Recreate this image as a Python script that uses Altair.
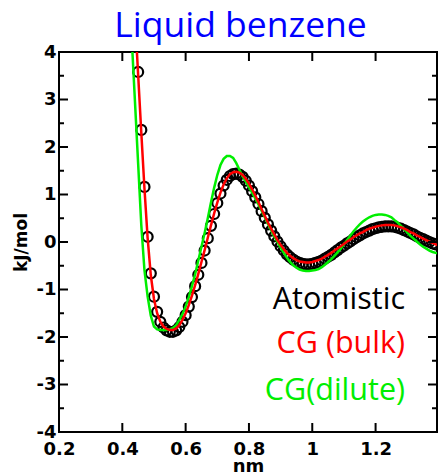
import altair as alt
import pandas as pd

# ---------------- data ----------------
atom_x = [0.45, 0.46, 0.47, 0.48, 0.49, 0.50, 0.51, 0.52, 0.53, 0.54,
          0.55, 0.56, 0.57, 0.58, 0.59, 0.60, 0.61, 0.62, 0.63, 0.64,
          0.65, 0.66, 0.67, 0.68, 0.69, 0.70, 0.71, 0.72, 0.73, 0.74,
          0.75, 0.76, 0.77, 0.78, 0.79, 0.80, 0.81, 0.82, 0.83, 0.84,
          0.85, 0.86, 0.87, 0.88, 0.89, 0.90, 0.91, 0.92, 0.93, 0.94,
          0.95, 0.96, 0.97, 0.98, 0.99, 1.00, 1.01, 1.02, 1.03, 1.04,
          1.05, 1.06, 1.07, 1.08, 1.09, 1.10, 1.11, 1.12, 1.13, 1.14,
          1.15, 1.16, 1.17, 1.18, 1.19, 1.20, 1.21, 1.22, 1.23, 1.24,
          1.25, 1.26, 1.27, 1.28, 1.29, 1.30, 1.31, 1.32, 1.33, 1.34,
          1.35, 1.36, 1.37, 1.38, 1.39]
atom_y = [3.58, 2.36, 1.16, 0.11, -0.66, -1.15, -1.47, -1.68, -1.80, -1.86,
          -1.89, -1.89, -1.86, -1.79, -1.68, -1.54, -1.36, -1.16, -0.93, -0.69,
          -0.44, -0.18, 0.08, 0.34, 0.59, 0.82, 1.02, 1.19, 1.31, 1.39,
          1.43, 1.44, 1.42, 1.37, 1.29, 1.19, 1.07, 0.94, 0.80, 0.65,
          0.51, 0.37, 0.24, 0.12, 0.01, -0.09, -0.18, -0.26, -0.32, -0.37,
          -0.41, -0.44, -0.46, -0.47, -0.47, -0.46, -0.44, -0.42, -0.39, -0.35,
          -0.31, -0.27, -0.22, -0.17, -0.12, -0.08, -0.03, 0.01, 0.06, 0.10,
          0.14, 0.18, 0.21, 0.24, 0.27, 0.29, 0.31, 0.32, 0.33, 0.33,
          0.33, 0.32, 0.30, 0.28, 0.25, 0.22, 0.19, 0.16, 0.12, 0.09,
          0.06, 0.03, 0.00, -0.03, -0.05]

bulk_x = [0.44, 0.45, 0.46, 0.47, 0.48, 0.49, 0.50, 0.51, 0.52, 0.53,
          0.54, 0.55, 0.56, 0.57, 0.58, 0.59, 0.60, 0.61, 0.62, 0.63,
          0.64, 0.65, 0.66, 0.67, 0.68, 0.69, 0.70, 0.71, 0.72, 0.73,
          0.74, 0.75, 0.76, 0.77, 0.78, 0.79, 0.80, 0.81, 0.82, 0.83,
          0.84, 0.85, 0.86, 0.87, 0.88, 0.89, 0.90, 0.91, 0.92, 0.93,
          0.94, 0.95, 0.96, 0.97, 0.98, 0.99, 1.00, 1.01, 1.02, 1.03,
          1.04, 1.05, 1.06, 1.07, 1.08, 1.09, 1.10, 1.11, 1.12, 1.13,
          1.14, 1.15, 1.16, 1.17, 1.18, 1.19, 1.20, 1.21, 1.22, 1.23,
          1.24, 1.25, 1.26, 1.27, 1.28, 1.29, 1.30, 1.31, 1.32, 1.33,
          1.34, 1.35, 1.36, 1.37, 1.38, 1.39, 1.40]
bulk_y = [4.75, 3.52, 2.30, 1.12, 0.08, -0.70, -1.20, -1.50, -1.68, -1.78,
          -1.83, -1.85, -1.85, -1.82, -1.75, -1.64, -1.50, -1.33, -1.13, -0.91,
          -0.67, -0.42, -0.17, 0.09, 0.35, 0.60, 0.83, 1.04, 1.21, 1.34,
          1.43, 1.47, 1.48, 1.46, 1.41, 1.33, 1.23, 1.11, 0.98, 0.84,
          0.69, 0.55, 0.41, 0.28, 0.16, 0.04, -0.06, -0.15, -0.23, -0.29,
          -0.34, -0.38, -0.41, -0.42, -0.43, -0.43, -0.42, -0.40, -0.38, -0.35,
          -0.31, -0.27, -0.23, -0.18, -0.13, -0.09, -0.04, 0.01, 0.05, 0.10,
          0.14, 0.18, 0.21, 0.25, 0.28, 0.30, 0.32, 0.34, 0.35, 0.36,
          0.36, 0.36, 0.35, 0.33, 0.31, 0.28, 0.25, 0.21, 0.18, 0.14,
          0.11, 0.07, 0.04, 0.01, -0.02, -0.05, -0.08]

dilute_x = [0.42, 0.43, 0.44, 0.45, 0.46, 0.47, 0.48, 0.49, 0.50, 0.51,
            0.52, 0.53, 0.54, 0.55, 0.56, 0.57, 0.58, 0.59, 0.60, 0.61,
            0.62, 0.63, 0.64, 0.65, 0.66, 0.67, 0.68, 0.69, 0.70, 0.71,
            0.72, 0.73, 0.74, 0.75, 0.76, 0.77, 0.78, 0.79, 0.80, 0.81,
            0.82, 0.83, 0.84, 0.85, 0.86, 0.87, 0.88, 0.89, 0.90, 0.91,
            0.92, 0.93, 0.94, 0.95, 0.96, 0.97, 0.98, 0.99, 1.00, 1.01,
            1.02, 1.03, 1.04, 1.05, 1.06, 1.07, 1.08, 1.09, 1.10, 1.11,
            1.12, 1.13, 1.14, 1.15, 1.16, 1.17, 1.18, 1.19, 1.20, 1.21,
            1.22, 1.23, 1.24, 1.25, 1.26, 1.27, 1.28, 1.29, 1.30, 1.31,
            1.32, 1.33, 1.34, 1.35, 1.36, 1.37, 1.38, 1.39, 1.40]
dilute_y = [5.55, 4.25, 2.95, 1.65, 0.35, -0.60, -1.15, -1.55, -1.78, -1.84,
            -1.85, -1.85, -1.85, -1.84, -1.81, -1.75, -1.64, -1.52, -1.36, -1.16,
            -0.93, -0.68, -0.39, -0.10, 0.19, 0.50, 0.83, 1.14, 1.41, 1.62,
            1.75, 1.81, 1.81, 1.77, 1.66, 1.52, 1.38, 1.27, 1.16, 1.04,
            0.92, 0.79, 0.66, 0.52, 0.38, 0.25, 0.12, 0.00, -0.12, -0.23,
            -0.33, -0.42, -0.49, -0.54, -0.58, -0.60, -0.61, -0.61, -0.60, -0.59,
            -0.57, -0.53, -0.48, -0.42, -0.36, -0.29, -0.22, -0.14, -0.05, 0.04,
            0.13, 0.22, 0.30, 0.37, 0.43, 0.48, 0.52, 0.55, 0.57, 0.58,
            0.58, 0.57, 0.55, 0.52, 0.46, 0.41, 0.34, 0.27, 0.20, 0.13,
            0.07, 0.01, -0.05, -0.10, -0.14, -0.18, -0.21, -0.23, -0.25]

x_ticks = [0.2, 0.4, 0.6, 0.8, 1.0, 1.2]
y_ticks = [-4, -3, -2, -1, 0, 1, 2, 3, 4]
y_minor = [-3.5, -2.5, -1.5, -0.5, 0.5, 1.5, 2.5, 3.5]
x_inner_ticks = [0.4, 0.6, 0.8, 1.0, 1.2]
y_inner_ticks = [-3, -2, -1, 0, 1, 2, 3]

title_text = "Liquid benzene"
legend_labels = ["Atomistic", "CG (bulk)", "CG(dilute)"]
legend_colors = ["#000000", "#FF0000", "#00EE00"]

# ---------------- layout ----------------
W, H = 378, 380
AXF = "DejaVu Sans"
TXT = "Open Sans"

xs = alt.Scale(domain=[0.2, 1.394], nice=False, zero=False)
ys = alt.Scale(domain=[-4, 4], nice=False, zero=False)

x_axis = alt.Axis(values=x_ticks, ticks=False, tickSize=0, domain=False, grid=False,
                  labelFont=AXF, labelFontWeight="bold", labelFontSize=18,
                  labelColor="black", labelPadding=8, labelExpr="'' + datum.value",
                  labelFlush=False, labelOverlap=False,
                  title="nm", titleFont=AXF, titleFontWeight="bold", titleFontSize=18,
                  titleColor="black", titlePadding=-1)
y_axis = alt.Axis(values=y_ticks, ticks=False, tickSize=0, domain=False, grid=False,
                  labelFont=AXF, labelFontWeight="bold", labelFontSize=18,
                  labelColor="black", labelPadding=3, labelExpr="'' + datum.value",
                  labelFlush=False, labelOverlap=False,
                  title="kJ/mol", titleFont=AXF, titleFontWeight="bold", titleFontSize=17,
                  titleColor="black", titlePadding=6)

atom_df = pd.DataFrame({"x": atom_x, "y": atom_y})
bulk_df = pd.DataFrame({"x": bulk_x, "y": bulk_y})
dil_df = pd.DataFrame({"x": dilute_x, "y": dilute_y})

X = alt.X("x:Q", scale=xs, axis=x_axis)
Y = alt.Y("y:Q", scale=ys, axis=y_axis)

points = alt.Chart(atom_df).mark_point(
    shape="circle", filled=False, color="black", size=100, strokeWidth=2.2, opacity=1, clip=True
).encode(x=X, y=Y)

green = alt.Chart(dil_df).mark_line(color="#00EE00", strokeWidth=2.5, clip=True).encode(x=X, y=Y)
red = alt.Chart(bulk_df).mark_line(color="#FF0000", strokeWidth=2.5, clip=True).encode(x=X, y=Y)

ymaj = pd.DataFrame({"y": y_inner_ticks})
ymin = pd.DataFrame({"y": y_minor})
xmaj = pd.DataFrame({"x": x_inner_ticks})

def hrule(df, x0, x1):
    return alt.Chart(df).mark_rule(color="black", strokeWidth=2).encode(
        y=Y, x=alt.value(x0), x2=alt.value(x1))

def vrule(df, y0, y1):
    return alt.Chart(df).mark_rule(color="black", strokeWidth=2).encode(
        x=X, y=alt.value(y0), y2=alt.value(y1))

ticks = [
    hrule(ymaj, 0, 9), hrule(ymin, 0, 5),
    hrule(ymaj, W, W - 9), hrule(ymin, W, W - 5),
    vrule(xmaj, H, H - 9), vrule(xmaj, 0, 9),
]

legend_y = [257, 301, 348]
texts = [
    alt.Chart(pd.DataFrame({"t": [lab]})).mark_text(
        font=TXT, fontSize=30.5, color=col, align="right", baseline="alphabetic"
    ).encode(text="t:N", x=alt.value(346), y=alt.value(yy))
    for lab, col, yy in zip(legend_labels, legend_colors, legend_y)
]

title = alt.Chart(pd.DataFrame({"t": [title_text]})).mark_text(
    font=TXT, fontSize=35.5, color="#0000FF", align="center", baseline="alphabetic"
).encode(text="t:N", x=alt.value(181.5), y=alt.value(-15))

chart = alt.layer(points, green, red, *ticks, *texts, title).properties(
    width=W, height=H,
    autosize=alt.AutoSizeParams(type="none"),
    padding={"left": 59, "top": 52, "right": 2, "bottom": 42},
).configure_view(stroke="black", strokeWidth=2)

chart.save("out.html", embed_options={"renderer": "svg", "actions": False})
